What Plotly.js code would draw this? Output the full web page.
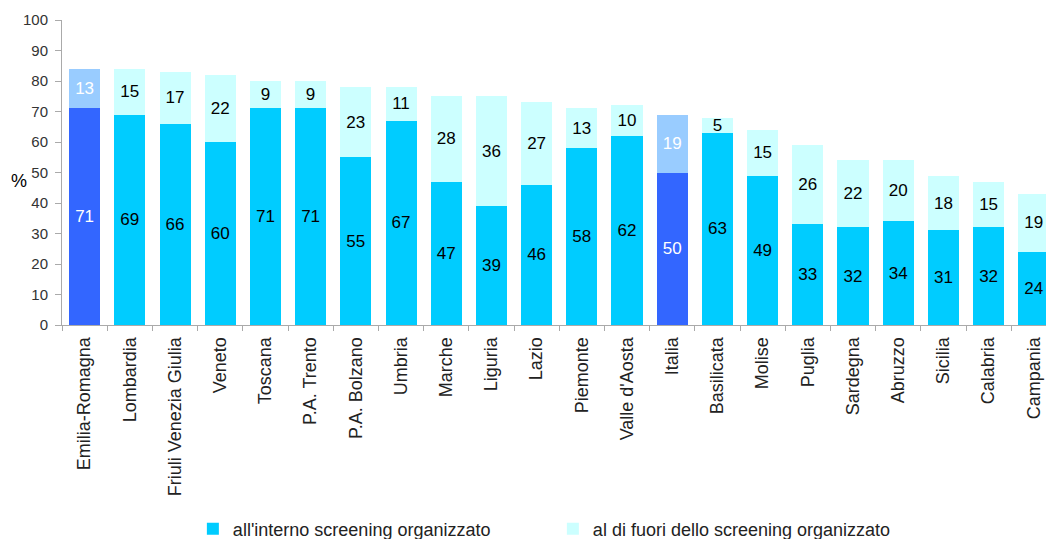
<!DOCTYPE html>
<html>
<head>
<meta charset="utf-8">
<script src="https://cdn.plot.ly/plotly-3.0.1.min.js"></script>
<style>html,body{margin:0;padding:0;background:#fff;overflow:hidden}#chart{width:1046px;height:539px}</style>
</head>
<body>
<div id="chart"></div>
<script>
const regions = ["Emilia-Romagna","Lombardia","Friuli Venezia Giulia","Veneto","Toscana","P.A. Trento","P.A. Bolzano","Umbria","Marche","Liguria","Lazio","Piemonte","Valle d'Aosta","Italia","Basilicata","Molise","Puglia","Sardegna","Abruzzo","Sicilia","Calabria","Campania"];
const inside = [71,69,66,60,71,71,55,67,47,39,46,58,62,50,63,49,33,32,34,31,32,24];
const outside = [13,15,17,22,9,9,23,11,28,36,27,13,10,19,5,15,26,22,20,18,15,19];
const highlighted = ["Emilia-Romagna","Italia"];
const seriesNames = ["all'interno screening organizzato","al di fuori dello screening organizzato"];

const FONT = "Liberation Sans, Arial, Helvetica, sans-serif";
const isH = regions.map(r => highlighted.includes(r));
function pick(arr, wantH){ return arr.map((v,i)=> isH[i]===wantH ? v : null); }

function tr(vals, color, txtColor, name, showlegend){
  return {
    type:'bar', x:regions, y:vals, name:name, showlegend:showlegend,
    marker:{color:color, line:{width:0}},
    texttemplate:'%{y}', textposition:'inside', insidetextanchor:'middle',
    constraintext:'none', textangle:0,
    textfont:{family:FONT, size:17, color:txtColor},
    hoverinfo:'x+y+name'
  };
}
const data = [
  tr(pick(inside,false), '#00CCFF', '#000', seriesNames[0], true),
  tr(pick(inside,true), '#3366FF', '#fff', seriesNames[0], false),
  tr(pick(outside,false), '#CCFFFF', '#000', seriesNames[1], true),
  tr(pick(outside,true), '#99CCFF', '#fff', seriesNames[1], false)
];

const layout = {
  width:1046, height:539,
  margin:{l:62, r:0, t:20, b:214},
  paper_bgcolor:'#fff', plot_bgcolor:'#fff',
  barmode:'stack', bargap:0.314,
  font:{family:FONT, color:'#222'},
  xaxis:{
    type:'category', range:[-0.5, 21.27], fixedrange:true,
    tickangle:-90, tickfont:{size:18, color:'#222'},
    ticks:'outside', tickson:'boundaries', ticklen:5, tickcolor:'#aaa',
    showline:true, linecolor:'#aaa', linewidth:1, showgrid:false, zeroline:false,
    ticklabelstandoff:4
  },
  yaxis:{
    range:[0,100], dtick:10, fixedrange:true,
    tickfont:{size:15, color:'#333'},
    ticks:'outside', ticklen:6, tickcolor:'#aaa',
    showline:true, linecolor:'#aaa', linewidth:1, showgrid:false, zeroline:false,
    ticklabelstandoff:4
  },
  showlegend:true,
  legend:{
    orientation:'h', x:0.133, xanchor:'left', yref:'container', y:0.0186, yanchor:'middle',
    font:{family:FONT, size:18, color:'#222'}, entrywidth:315, traceorder:'normal'
  },
  annotations:[{
    text:'%', xref:'paper', yref:'paper', x:-0.0437, y:0.4715, xanchor:'center', yanchor:'middle',
    showarrow:false, font:{family:FONT, size:18, color:'#000'}
  }]
};
Plotly.newPlot('chart', data, layout, {displayModeBar:false, staticPlot:true});
</script>
</body>
</html>
